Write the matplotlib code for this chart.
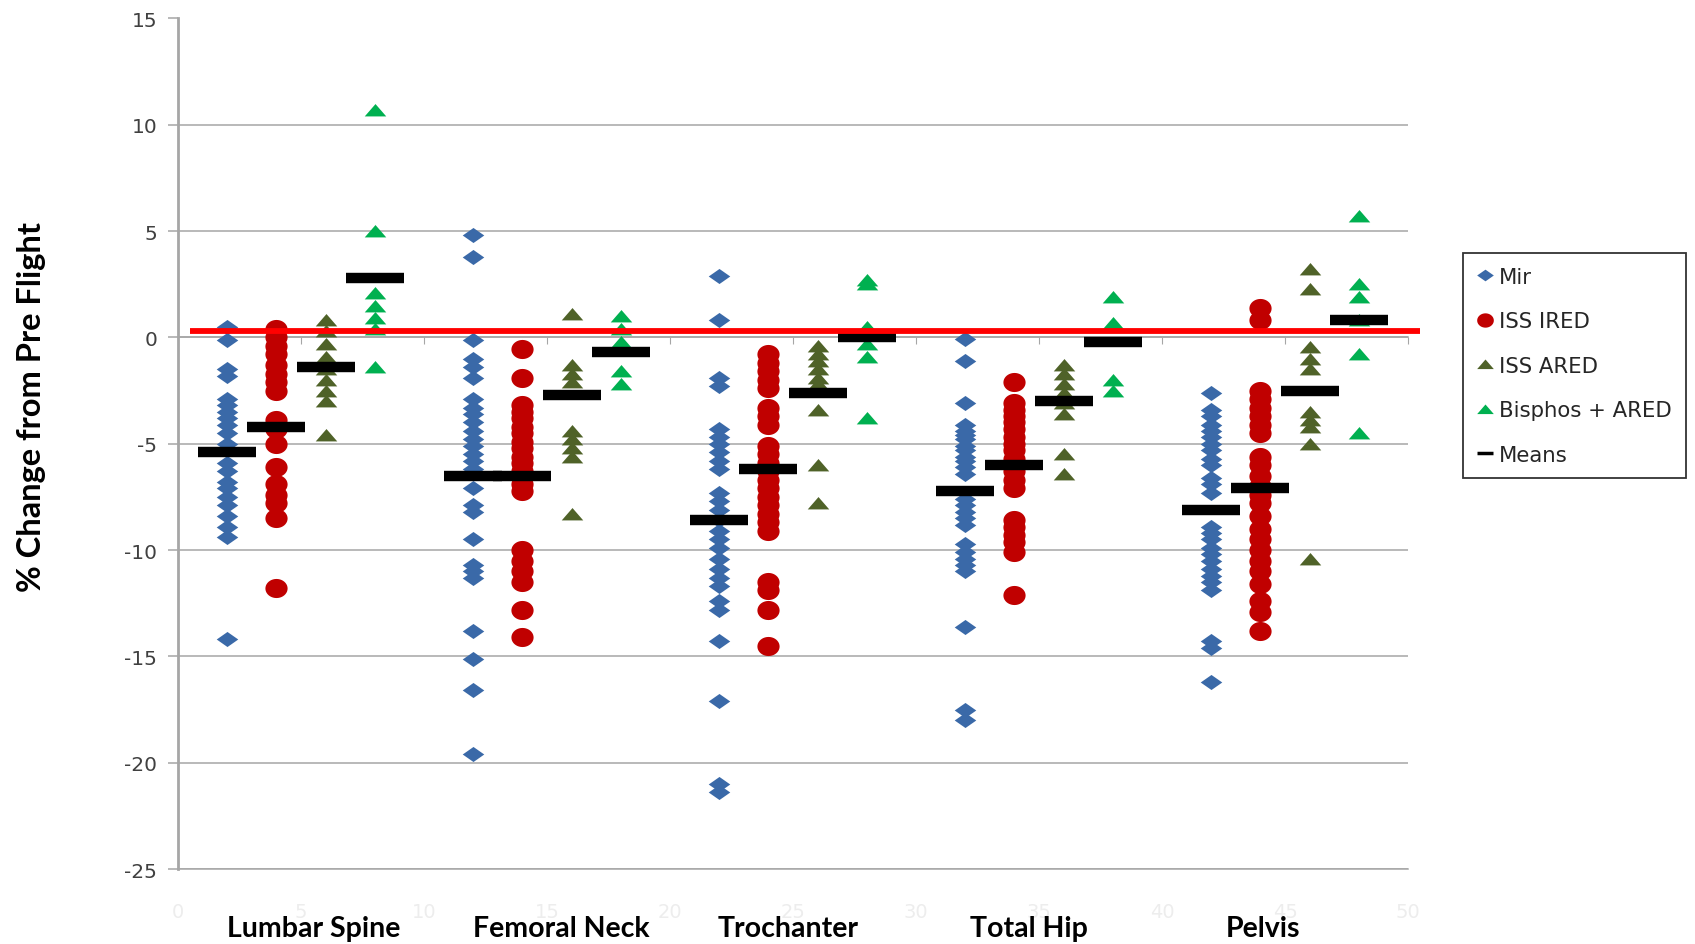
import numpy as np
import matplotlib
matplotlib.use("Agg")
import matplotlib.pyplot as plt
from matplotlib.lines import Line2D

plt.rcParams["axes.unicode_minus"] = False

# Участки скелета и позиции групп по оси X
sites = ["Lumbar Spine", "Femoral Neck", "Trochanter", "Total Hip", "Pelvis"]
site_x = [2, 12, 22, 32, 42]
label_x = [5.5, 15.6, 24.8, 34.6, 44.1]

# Данные: % изменения относительно предполётного уровня
mir = [
    [0.5, -0.1, -1.5, -1.8, -2.9, -3.2, -3.5, -3.8, -4.1, -4.5, -5.0, -5.9, -6.3, -6.8, -7.1, -7.5, -7.9, -8.4, -8.9, -9.4, -14.2],
    [4.8, 3.8, -0.1, -1.0, -1.4, -1.9, -2.9, -3.3, -3.6, -4.0, -4.4, -4.8, -5.1, -5.5, -5.8, -6.2, -7.1, -7.9, -8.2, -9.5, -10.7, -11.0, -11.3, -13.8, -15.1, -16.6, -19.6],
    [2.9, 0.8, -1.9, -2.3, -4.3, -4.7, -5.0, -5.4, -5.8, -6.2, -7.3, -7.7, -8.1, -8.6, -9.1, -9.5, -9.9, -10.4, -10.9, -11.3, -11.7, -12.4, -12.8, -14.3, -17.1, -21.0, -21.4],
    [-0.05, -1.1, -3.1, -4.1, -4.4, -4.6, -4.8, -5.1, -5.3, -5.6, -5.8, -6.1, -6.4, -7.6, -7.9, -8.2, -8.5, -8.8, -9.7, -10.1, -10.4, -10.7, -11.0, -13.6, -17.5, -18.0],
    [-2.6, -3.4, -3.7, -4.1, -4.4, -4.7, -5.0, -5.3, -5.7, -6.0, -6.6, -6.9, -7.3, -8.9, -9.2, -9.5, -9.9, -10.2, -10.5, -10.9, -11.2, -11.5, -11.9, -14.3, -14.6, -16.2],
]
iss_ired = [
    [0.4, 0.0, -0.4, -0.8, -1.3, -1.7, -2.1, -2.5, -3.9, -4.3, -5.0, -6.1, -6.9, -7.4, -7.8, -8.5, -11.8],
    [-0.55, -1.9, -3.2, -3.5, -3.8, -4.2, -4.5, -4.9, -5.2, -5.6, -5.9, -6.3, -6.9, -7.2, -10.0, -10.5, -11.0, -11.5, -12.8, -14.1],
    [-0.8, -1.2, -1.6, -2.0, -2.4, -3.3, -3.7, -4.1, -5.1, -5.5, -5.9, -6.3, -6.7, -7.1, -7.5, -7.9, -8.3, -8.7, -9.1, -11.5, -11.9, -12.8, -14.5],
    [-2.1, -3.1, -3.4, -3.7, -4.0, -4.3, -4.7, -5.0, -5.3, -5.7, -6.0, -6.3, -6.7, -7.1, -8.6, -8.9, -9.3, -9.6, -10.1, -12.1],
    [1.4, 0.8, -2.5, -2.9, -3.3, -3.7, -4.1, -4.5, -5.6, -6.0, -6.5, -7.0, -7.4, -7.8, -8.4, -9.0, -9.5, -10.0, -10.5, -11.0, -11.6, -12.4, -12.9, -13.8],
]
iss_ared = [
    [0.8, 0.3, -0.3, -0.9, -1.5, -2.0, -2.5, -3.0, -4.6],
    [1.1, -1.3, -1.7, -2.1, -4.4, -4.8, -5.2, -5.6, -8.3],
    [-0.4, -0.8, -1.1, -1.5, -1.9, -2.2, -3.4, -6.0, -7.8],
    [-1.3, -1.7, -2.2, -2.6, -3.1, -3.6, -5.5, -6.4],
    [3.2, 2.3, -0.45, -1.0, -1.5, -3.5, -3.9, -4.2, -5.0, -10.4],
]
bisphos = [
    [10.7, 5.0, 2.1, 1.5, 0.9, 0.4, -1.4],
    [1.0, 0.4, -0.2, -0.5, -1.6, -2.2],
    [2.7, 2.5, 0.5, -0.3, -0.9, -3.8],
    [1.9, 0.7, -2.0, -2.5],
    [5.7, 2.5, 1.9, 0.8, -0.8, -4.5],
]
# Средние значения (чёрные штрихи)
means = [
    [-5.4, -6.5, -8.6, -7.2, -8.1],
    [-4.2, -6.5, -6.2, -6.0, -7.1],
    [-1.4, -2.7, -2.6, -3.0, -2.5],
    [2.8, -0.7, 0.0, -0.2, 0.8],
]
ref_level = 0.3

series_names = ["Mir", "ISS IRED", "ISS ARED", "Bisphos + ARED"]
series_data = [mir, iss_ired, iss_ared, bisphos]
series_offset = [0, 2, 4, 6]
colors = ["#3A69A8", "#C00000", "#4F6228", "#00B050"]

# Немного "растянутые" маркеры, как в исходном рисунке Excel
t = np.linspace(0, 2 * np.pi, 41)
diamond = [(-1, 0), (0, 0.7), (1, 0), (0, -0.7), (-1, 0)]
ellipse = list(zip(np.cos(t), 0.86 * np.sin(t)))
triangle = [(-1, -0.55), (1, -0.55), (0, 0.6), (-1, -0.55)]
markers = [diamond, ellipse, triangle, triangle]
sizes = [15.5, 16, 15.5, 15.5]

fig = plt.figure(figsize=(16.95, 9.45), dpi=100)
ax = fig.add_axes([178 / 1695, 75 / 945, 1230 / 1695, 850.5 / 945])

grid_c = "#A6A6A6"
for name, data, off, col, mk, ms in zip(series_names, series_data, series_offset, colors, markers, sizes):
    xs = []
    ys = []
    for sx, vals in zip(site_x, data):
        xs += [sx + off] * len(vals)
        ys += vals
    ax.plot(xs, ys, linestyle="none", marker=mk, markersize=ms, color=col,
            markeredgewidth=0, zorder=3)

for off, m in zip(series_offset, means):
    ax.plot([sx + off for sx in site_x], m, linestyle="none", marker="_",
            markersize=42, markeredgewidth=7.5, color="black", zorder=4)

# Красная линия уровня
ax.plot([0.5, 50.5], [ref_level, ref_level], color="#FF0000", lw=4.2,
        zorder=6, clip_on=False, solid_capstyle="butt")

ax.set_xlim(0, 50)
ax.set_ylim(-25, 15)
ax.set_yticks(range(-25, 16, 5))
ax.yaxis.grid(True, color=grid_c, lw=1.1)
ax.set_axisbelow(True)

for s in ["top", "right"]:
    ax.spines[s].set_visible(False)
ax.spines["left"].set_color(grid_c)
ax.spines["left"].set_linewidth(2)
ax.spines["bottom"].set_position(("data", 0))
ax.spines["bottom"].set_color(grid_c)
ax.spines["bottom"].set_linewidth(1.1)
ax.set_xticks(range(0, 51, 5))
ax.tick_params(axis="x", direction="out", length=5, color=grid_c, labelbottom=False)
ax.tick_params(axis="y", direction="out", length=7, width=1.1, color=grid_c,
               labelsize=14.5, labelcolor="#404040", pad=8)

# Бледные подписи 0..50 внизу
sec = ax.secondary_xaxis("bottom")
sec.set_xticks(range(0, 51, 5))
sec.tick_params(length=0, labelsize=14, labelcolor="#EDEDED", pad=24)
sec.spines["bottom"].set_color(grid_c)
sec.spines["bottom"].set_linewidth(1.1)

for lx, name in zip(label_x, sites):
    ax.text(lx, -0.069, name, transform=ax.get_xaxis_transform(), ha="center",
            va="center", fontsize=20.5, fontweight="bold", family="Lato")

fig.text(32 / 1695, 1 - 407 / 945, "% Change from Pre Flight", rotation=90,
         ha="center", va="center", fontsize=23.5, fontweight="bold", family="Lato")

handles = [Line2D([], [], linestyle="none", marker=mk, markersize=12, color=c, markeredgewidth=0)
           for mk, c in zip(markers, colors)]
handles.append(Line2D([], [], linestyle="none", marker="_", markersize=12,
                      markeredgewidth=2.5, color="black"))
leg = ax.legend(handles, series_names + ["Means"], loc="upper left",
                bbox_to_anchor=(1463 / 1695, 1 - 254 / 945), bbox_transform=fig.transFigure,
                fontsize=15.3, frameon=True, fancybox=False, labelspacing=1.15,
                handlelength=0.8, handletextpad=0.25, borderpad=0.65, borderaxespad=0)
leg.get_frame().set_edgecolor("black")
leg.get_frame().set_linewidth(1.3)
for txt in leg.get_texts():
    txt.set_color("#262626")

plt.savefig("out.png", dpi=100)
